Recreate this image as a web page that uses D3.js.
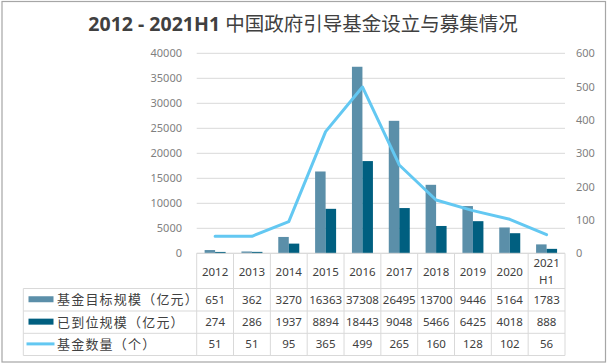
<!DOCTYPE html>
<html><head><meta charset="utf-8">
<script src="https://cdn.jsdelivr.net/npm/d3@7/dist/d3.min.js"></script>
<style>body{margin:0;background:#fff}svg{display:block}</style>
</head><body><svg id="c" width="608" height="364"></svg>
<script>
const categories = ["2012","2013","2014","2015","2016","2017","2018","2019","2020","2021H1"];
const targetScale = [651,362,3270,16363,37308,26495,13700,9446,5164,1783];
const paidScale = [274,286,1937,8894,18443,9048,5466,6425,4018,888];
const fundCount = [51,51,95,365,499,265,160,128,102,56];
const leftTicks = [0,5000,10000,15000,20000,25000,30000,35000,40000];
const rightTicks = [0,100,200,300,400,500,600];
const seriesNames = ["基金目标规模（亿元）","已到位规模（亿元）","基金数量（个）"];

const svg = d3.select("#c");
const colors = ["#5b8fa9","#005f80","#63c8f2"];
const grid = "#d9d9d9";
const x0=196.7, x1=565, yTop=53.3, yBot=253.3;
const font = "'Noto Sans','Noto Sans CJK SC',sans-serif";

svg.append("rect").attr("x",2).attr("y",1.5).attr("width",603.5).attr("height",360.5)
  .attr("fill","#fff").attr("stroke","#a6a6a6").attr("stroke-width",1.2);

// title
const t = svg.append("text").attr("x",303).attr("y",31).attr("text-anchor","middle")
  .attr("fill","#404040").attr("font-family",font).attr("font-size",19.5);
t.append("tspan").attr("font-weight","bold").text("2012 - 2021H1 ");
t.append("tspan").attr("font-family","'Noto Sans CJK SC',sans-serif").text("中国政府引导基金设立与募集情况");

const x = d3.scaleBand().domain(categories).range([x0,x1]);
const yL = d3.scaleLinear().domain([0,40000]).range([yBot,yTop]);
const yR = d3.scaleLinear().domain([0,600]).range([yBot,yTop]);

// gridlines
svg.append("g").selectAll("line").data(leftTicks).join("line")
  .attr("x1",x0).attr("x2",x1).attr("y1",d=>yL(d)).attr("y2",d=>yL(d))
  .attr("stroke",grid).attr("stroke-width",1);

// axes labels
const axL = d3.axisLeft(yL).tickValues(leftTicks).tickFormat(d3.format("d")).tickSize(0).tickPadding(0);
const gL = svg.append("g").attr("transform",`translate(182,0)`).call(axL);
gL.select(".domain").remove();
gL.selectAll("text").attr("fill","#7f7f7f").attr("font-family",font).attr("font-size",11);

const axR = d3.axisRight(yR).tickValues(rightTicks).tickFormat(d3.format("d")).tickSize(0).tickPadding(0);
const gR = svg.append("g").attr("transform",`translate(576,0)`).call(axR);
gR.select(".domain").remove();
gR.selectAll("text").attr("fill","#7f7f7f").attr("font-family",font).attr("font-size",11);

// bars
const bw = x.bandwidth()*0.285;
const gap = (x.bandwidth()-2*bw)/2;
svg.append("g").selectAll("rect").data(targetScale).join("rect")
  .attr("x",(d,i)=>x(categories[i])+gap).attr("width",bw)
  .attr("y",d=>yL(d)).attr("height",d=>yBot-yL(d)).attr("fill",colors[0]);
svg.append("g").selectAll("rect").data(paidScale).join("rect")
  .attr("x",(d,i)=>x(categories[i])+gap+bw).attr("width",bw)
  .attr("y",d=>yL(d)).attr("height",d=>yBot-yL(d)).attr("fill",colors[1]);

// line
const line = d3.line().x((d,i)=>x(categories[i])+x.bandwidth()/2).y(d=>yR(d));
svg.append("path").datum(fundCount).attr("d",line).attr("fill","none")
  .attr("stroke",colors[2]).attr("stroke-width",3).attr("stroke-linejoin","round").attr("stroke-linecap","round");

// table
const rowY = [yBot, 288.5, 311, 333.3, 355.5];
const tleft = 23.3;
const tg = svg.append("g");
tg.append("line").attr("x1",x0).attr("x2",x1).attr("y1",yBot).attr("y2",yBot).attr("stroke",grid);
[1,2,3,4].forEach(k=>{
  tg.append("line").attr("x1",tleft).attr("x2",x1).attr("y1",rowY[k]).attr("y2",rowY[k]).attr("stroke",grid);
});
const vx = categories.map(c=>x(c)).concat([x1]);
vx.forEach(v=>{
  tg.append("line").attr("x1",v).attr("x2",v).attr("y1",yBot).attr("y2",rowY[4]).attr("stroke",grid);
});
tg.append("line").attr("x1",tleft).attr("x2",tleft).attr("y1",rowY[1]).attr("y2",rowY[4]).attr("stroke",grid);

categories.forEach(c=>{
  const cx = x(c)+x.bandwidth()/2;
  if(c.length>4){
    const tt = tg.append("text").attr("text-anchor","middle").attr("fill","#404040")
      .attr("font-family",font).attr("font-size",11.5);
    tt.append("tspan").attr("x",cx).attr("y",267).text(c.slice(0,4));
    tt.append("tspan").attr("x",cx).attr("y",284).text(c.slice(4));
  } else {
    tg.append("text").attr("x",cx).attr("y",276).attr("text-anchor","middle").attr("fill","#404040")
      .attr("font-family",font).attr("font-size",11.5).text(c);
  }
});
const rows = [targetScale, paidScale, fundCount];
rows.forEach((arr,r)=>{
  const cy = (rowY[r+1]+rowY[r+2])/2;
  arr.forEach((v,i)=>{
    tg.append("text").attr("x",x(categories[i])+x.bandwidth()/2).attr("y",cy+4)
      .attr("text-anchor","middle").attr("fill","#404040")
      .attr("font-family",font).attr("font-size",11.5).text(v);
  });
  if(r<2){
    tg.append("rect").attr("x",28.5).attr("y",cy-3.5).attr("width",25).attr("height",6).attr("fill",colors[r]);
  } else {
    tg.append("line").attr("x1",26.5).attr("x2",54.5).attr("y1",cy-0.5).attr("y2",cy-0.5)
      .attr("stroke",colors[2]).attr("stroke-width",3);
  }
  tg.append("text").attr("x",57).attr("y",cy+4.5).attr("fill","#404040")
    .attr("font-family","'Noto Sans CJK SC',sans-serif").attr("font-size",13).attr("letter-spacing",1.2)
    .text(seriesNames[r]);
});
</script></body></html>
